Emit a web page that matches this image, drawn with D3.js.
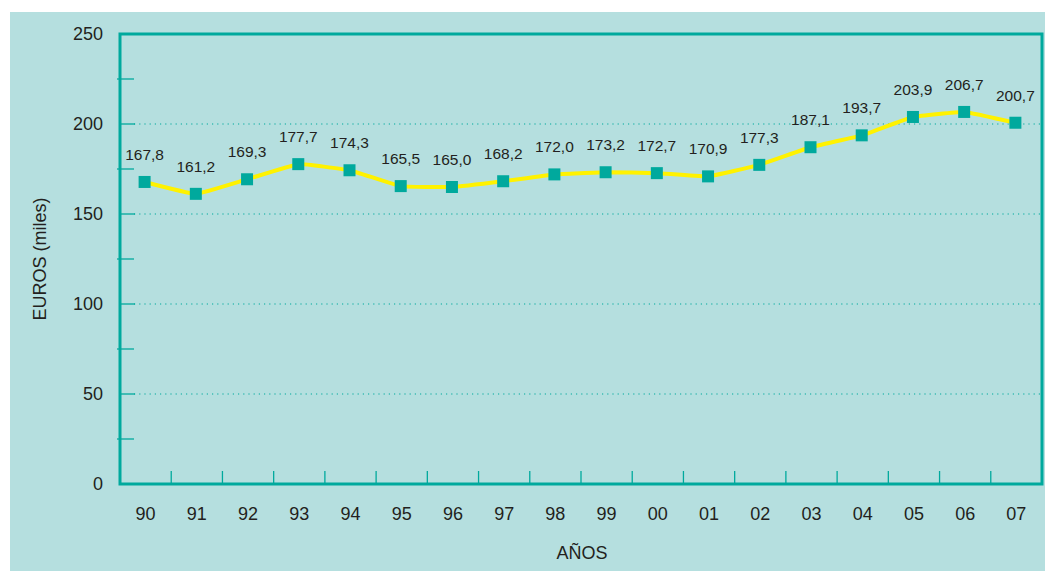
<!DOCTYPE html>
<html><head><meta charset="utf-8">
<script src="https://cdn.jsdelivr.net/npm/d3@7"></script>
<style>body{margin:0;background:#fff}svg{display:block}text{font-family:"Liberation Sans",Arial,sans-serif;fill:#231f20}</style>
</head><body><svg id="c" width="1045" height="571"></svg>
<script>
const years = ["90","91","92","93","94","95","96","97","98","99","00","01","02","03","04","05","06","07"];
const values = [167.8,161.2,169.3,177.7,174.3,165.5,165.0,168.2,172.0,173.2,172.7,170.9,177.3,187.1,193.7,203.9,206.7,200.7];
const labels = ["167,8","161,2","169,3","177,7","174,3","165,5","165,0","168,2","172,0","173,2","172,7","170,9","177,3","187,1","193,7","203,9","206,7","200,7"];
const yTicks = [0,50,100,150,200,250];
const yMinor = [25,75,125,175,225];

const svg = d3.select("#c");
const teal = "#00a99d", bg = "#b5dfdf";
svg.append("rect").attr("x",10).attr("y",12).attr("width",1035).attr("height",559).attr("fill",bg);

const L=120, R=1042, T=34, B=484;
const x = d3.scaleBand().domain(years).range([L,R]);
const y = d3.scaleLinear().domain([0,250]).range([B,T]);

svg.selectAll(".grid").data(yTicks.filter(d=>d>0&&d<250)).join("line")
  .attr("x1",L+14).attr("x2",R).attr("y1",d=>y(d)).attr("y2",d=>y(d))
  .attr("stroke",teal).attr("stroke-width",1.2).attr("stroke-dasharray","1.2,4");
svg.selectAll(".ymaj").data(yTicks.filter(d=>d>0&&d<250)).join("line")
  .attr("x1",L).attr("x2",L+15).attr("y1",d=>y(d)).attr("y2",d=>y(d))
  .attr("stroke",teal).attr("stroke-width",1.3);
svg.selectAll(".ymin").data(yMinor).join("line")
  .attr("x1",L-3).attr("x2",L+14).attr("y1",d=>y(d)).attr("y2",d=>y(d))
  .attr("stroke",teal).attr("stroke-width",1.3);
svg.selectAll(".xt").data(years.slice(1)).join("line")
  .attr("x1",d=>x(d)).attr("x2",d=>x(d)).attr("y1",B).attr("y2",B-13)
  .attr("stroke",teal).attr("stroke-width",1.3);
svg.append("rect").attr("x",L).attr("y",T).attr("width",R-L).attr("height",B-T)
  .attr("fill","none").attr("stroke",teal).attr("stroke-width",3);

svg.selectAll(".yl").data(yTicks).join("text")
  .attr("x",103).attr("y",d=>y(d)).attr("dy","0.35em").attr("text-anchor","end")
  .attr("font-size",18).text(d=>d);
svg.selectAll(".xl").data(years).join("text")
  .attr("x",d=>x(d)+x.bandwidth()/2).attr("y",520).attr("text-anchor","middle")
  .attr("font-size",18).text(d=>d);
svg.append("text").attr("x",582).attr("y",559).attr("text-anchor","middle").attr("font-size",18).text("AÑOS");
svg.append("text").attr("transform","translate(46,259) rotate(-90)").attr("text-anchor","middle").attr("font-size",18).text("EUROS (miles)");

const cx = (d,i)=>x(years[i])+x.bandwidth()/2 - 1;
const line = d3.line().x((d,i)=>cx(d,i)).y(d=>y(d)).curve(d3.curveCardinal.tension(0.7));
svg.append("path").attr("d",line(values)).attr("fill","none").attr("stroke","#fff200").attr("stroke-width",4);

svg.selectAll(".m").data(values).join("rect")
  .attr("x",(d,i)=>cx(d,i)-6).attr("y",d=>y(d)-6).attr("width",12).attr("height",12).attr("fill",teal);

svg.selectAll(".dl").data(values).join("text")
  .attr("x",(d,i)=>cx(d,i)).attr("y",d=>y(d)-22).attr("text-anchor","middle")
  .attr("font-size",15.5).text((d,i)=>labels[i]);
</script></body></html>
